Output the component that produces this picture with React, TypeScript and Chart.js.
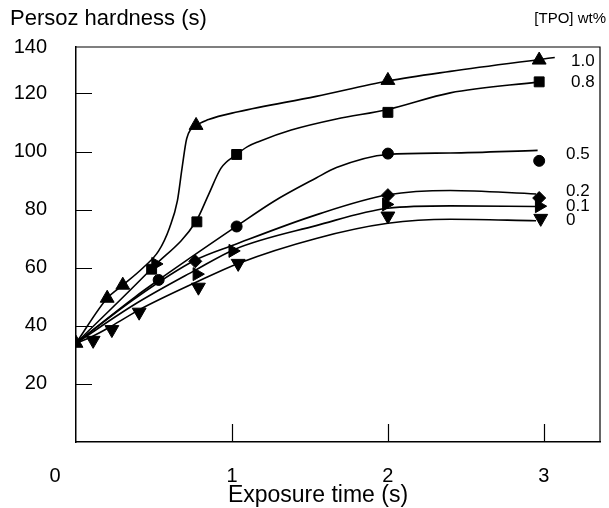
import React, { useEffect, useRef } from "react";
import { Chart, registerables } from "chart.js";

Chart.register(...registerables);

const FONT = "'Liberation Sans', Arial, sans-serif";

// Series labels ([TPO] wt%)
const seriesNames = ["1.0", "0.8", "0.5", "0.2", "0.1", "0"];
const labelValues = [131.2, 124, 98.9, 86.3, 81.2, 76.3];

// Marker data (exposure time s, Persoz hardness s)
const m10x = [0, 0.2, 0.3, 0.77, 2.0, 2.97];
const m10y = [34, 49.5, 54, 109, 124.5, 131.5];
const m08x = [0.485, 0.775, 1.03, 2.0, 2.97];
const m08y = [59.5, 75.8, 99, 113.5, 124];
const m05x = [0.53, 1.03, 2.0, 2.97];
const m05y = [55.8, 74.2, 99.3, 96.8];
const m02x = [0.765, 2.0, 2.97];
const m02y = [62.2, 85, 84];
const m01x = [0.51, 0.775, 1.005, 1.99, 2.97];
const m01y = [61.3, 57.8, 65.8, 81.8, 81.2];
const m0x = [0.11, 0.23, 0.405, 0.785, 1.04, 2.0, 2.98];
const m0y = [35, 38.7, 44.7, 53.3, 61.5, 77.8, 77];

// Fitted curves
const c10x = [0, 0.2, 0.3, 0.43, 0.53, 0.6, 0.65, 0.68, 0.71, 0.77, 0.85, 1.04, 1.54, 2.0, 2.4, 3.07];
const c10y = [34, 49.5, 54, 60, 65.8, 73.8, 83, 94.3, 104.5, 108.8, 111, 113.7, 119, 124.3, 127.6, 132.4];
const c08x = [0, 0.49, 0.77, 0.85, 0.93, 1.03, 1.1, 1.17, 1.38, 1.67, 2.0, 2.4, 2.97];
const c08y = [34, 60, 76, 85.2, 94.3, 99, 101.7, 103.4, 107.4, 111.2, 114.5, 120.2, 124];
const c05x = [0, 0.38, 0.53, 1.03, 1.27, 1.54, 1.67, 2.0, 2.4, 2.96];
const c05y = [34, 50, 55.8, 74.3, 82.9, 90.9, 94.5, 99, 99.5, 100.4];
const c02x = [0, 0.38, 0.76, 1.02, 1.54, 2.0, 2.4, 2.95];
const c02y = [34, 49.5, 62.5, 68, 78.2, 85.1, 86.6, 85.4];
const c01x = [0, 0.38, 0.76, 1.02, 1.54, 2.0, 2.4, 2.95];
const c01y = [34, 47.5, 59, 66.4, 74.5, 80.5, 81.3, 81.1];
const c0x = [0, 0.11, 0.23, 0.405, 0.77, 1.04, 1.54, 2.0, 2.4, 2.95];
const c0y = [34, 36.5, 40, 45.5, 55, 61.5, 70.1, 75.3, 76.7, 76.2];

const xTicks = [0, 1, 2, 3];
const yTicks = [20, 40, 60, 80, 100, 120];
const yTopLabel = "140";
const X_MAX = 3.36;
const Y_MAX = 136;

const pts = (xs: number[], ys: number[]) => xs.map((x, i) => ({ x, y: ys[i] }));

const curve = (xs: number[], ys: number[]) => ({
  type: "line" as const,
  data: pts(xs, ys),
  showLine: true,
  borderColor: "#000",
  borderWidth: 1.6,
  pointRadius: 0,
  cubicInterpolationMode: "monotone" as const,
  fill: false,
});

const markers = (xs: number[], ys: number[], style: string, radius: number, rotation = 0) => ({
  type: "scatter" as const,
  data: pts(xs, ys),
  showLine: false,
  pointStyle: style,
  pointRadius: radius,
  pointRotation: rotation,
  backgroundColor: "#000",
  borderColor: "#000",
  borderWidth: 1,
});

const decor = {
  id: "decor",
  afterDraw(chart: any) {
    const { ctx, chartArea: a, scales } = chart;
    const xs = scales.x;
    const ys = scales.y;
    ctx.save();
    ctx.strokeStyle = "#000";
    ctx.lineWidth = 1.2;
    // frame top + right
    ctx.beginPath();
    ctx.moveTo(a.left, a.top);
    ctx.lineTo(a.right, a.top);
    ctx.lineTo(a.right, a.bottom);
    ctx.stroke();
    // inward ticks
    ctx.beginPath();
    yTicks.forEach((v) => {
      const p = Math.round(ys.getPixelForValue(v)) + 0.5;
      ctx.moveTo(a.left, p);
      ctx.lineTo(a.left + 16, p);
    });
    xTicks.forEach((v) => {
      if (v === 0) return;
      const p = Math.round(xs.getPixelForValue(v)) + 0.5;
      ctx.moveTo(p, a.bottom);
      ctx.lineTo(p, a.bottom - 18);
    });
    ctx.stroke();
    // texts
    ctx.fillStyle = "#000";
    ctx.textBaseline = "middle";
    ctx.textAlign = "left";
    ctx.font = `22px ${FONT}`;
    ctx.fillText("Persoz hardness (s)", 10, 19);
    ctx.textAlign = "right";
    ctx.font = `15px ${FONT}`;
    ctx.fillText("[TPO] wt%", 606, 19);
    ctx.textAlign = "left";
    ctx.font = `17px ${FONT}`;
    seriesNames.forEach((n, i) => {
      const y = ys.getPixelForValue(labelValues[i]);
      const x = i < 2 ? 571 : 566;
      ctx.fillText(n, x, y);
    });
    ctx.textAlign = "center";
    ctx.font = `20px ${FONT}`;
    ctx.fillText("0", xs.getPixelForValue(0) - 21, 476);
    ctx.font = `23px ${FONT}`;
    ctx.fillText("Exposure time (s)", 318, 496);
    ctx.restore();
  },
};

export default function App() {
  const ref = useRef<HTMLCanvasElement | null>(null);
  useEffect(() => {
    if (!ref.current) return;
    const chart = new Chart(ref.current, {
      type: "scatter",
      data: {
        datasets: [
          curve(c10x, c10y),
          curve(c08x, c08y),
          curve(c05x, c05y),
          curve(c02x, c02y),
          curve(c01x, c01y),
          curve(c0x, c0y),
          markers(m10x, m10y, "triangle", 8),
          markers(m08x, m08y, "rect", 7),
          markers(m05x, m05y, "circle", 5.5),
          markers(m02x, m02y, "rectRot", 6.5),
          markers(m01x, m01y, "triangle", 7.5, 90),
          markers(m0x, m0y, "triangle", 8, 180),
        ] as any,
      },
      plugins: [decor],
      options: {
        animation: false,
        responsive: false,
        maintainAspectRatio: false,
        layout: { padding: { top: 47, right: 2, left: 0, bottom: 0 } },
        plugins: { legend: { display: false }, tooltip: { enabled: false }, title: { display: false } },
        scales: {
          x: {
            type: "linear",
            min: 0,
            max: X_MAX,
            afterFit: (s: any) => {
              s.height = 66;
            },
            afterBuildTicks: (s: any) => {
              s.ticks = xTicks.map((v) => ({ value: v }));
            },
            grid: { display: false, drawTicks: false },
            border: { display: true, color: "#000", width: 1.5 },
            ticks: {
              padding: 22,
              color: "#000",
              font: { family: FONT, size: 20 },
              callback: (v: any) => (v === 0 ? "" : String(v)),
            },
          },
          y: {
            type: "linear",
            min: 0,
            max: Y_MAX,
            afterFit: (s: any) => {
              s.width = 76;
            },
            afterBuildTicks: (s: any) => {
              s.ticks = [...yTicks, Y_MAX].map((v) => ({ value: v }));
            },
            grid: { display: false, drawTicks: false },
            border: { display: true, color: "#000", width: 1.5 },
            ticks: {
              padding: 29,
              color: "#000",
              font: { family: FONT, size: 20 },
              callback: (v: any) => (v === Y_MAX ? yTopLabel : String(v)),
            },
          },
        },
      },
    });
    return () => chart.destroy();
  }, []);
  return (
    <div style={{ position: "fixed", left: 0, top: 0, width: 609, height: 508, background: "#fff" }}>
      <canvas ref={ref} width={609} height={508} style={{ width: 609, height: 508, display: "block" }} />
    </div>
  );
}
